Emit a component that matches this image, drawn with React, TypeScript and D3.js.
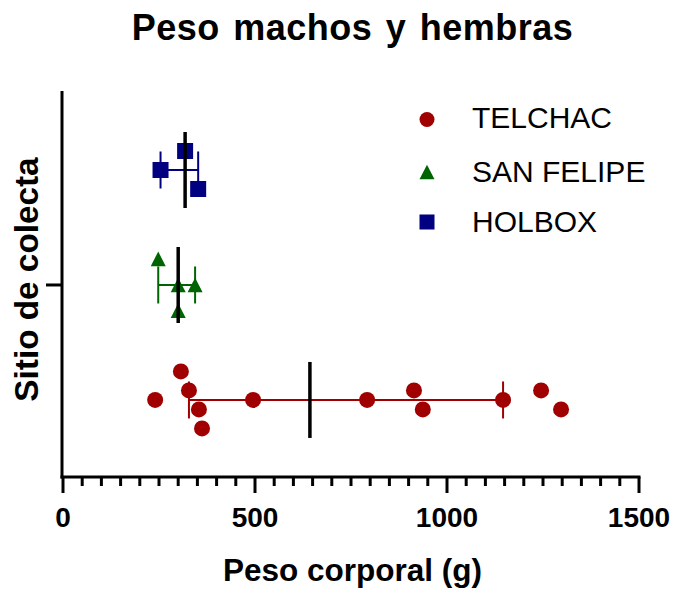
import React from "react";
import * as d3 from "d3";

// ---- data ----
const categories = ["TELCHAC", "SAN FELIPE", "HOLBOX"];
const categoryPos = [1, 2, 3];
const colors = ["#A00000", "#006400", "#000080"];

const telchacValues = [240, 307, 328, 354, 362, 495, 792, 914, 937, 1146, 1245, 1297];
const telchacLane = [0, -3, -1, 1, 3, 0, 0, -1, 1, 0, -1, 1];
const sanFelipeValues = [248, 300, 344, 300];
const sanFelipeLane = [-2.75, 0, 0, 2.7];
const holboxValues = [254, 318, 352];
const holboxLane = [0, -2, 2];

const medians = [643, 300, 318];
const errLow = [328, 248, 254];
const errHigh = [1146, 344, 352];

const xTicks = [0, 500, 1000, 1500];
const xMinorStep = 50;

const W = 673;
const H = 590;

export default function App() {
  const x = d3.scaleLinear().domain([0, 1500]).range([63, 639]);
  const y = d3.scaleLinear().domain([0.33, 3.687]).range([477, 91]);
  const laneStep = 0.0826;

  const series = [
    { values: telchacValues, lanes: telchacLane },
    { values: sanFelipeValues, lanes: sanFelipeLane },
    { values: holboxValues, lanes: holboxLane },
  ];

  const marker = (i: number, cx: number, cy: number, s: number, key: string) => {
    const c = colors[i];
    if (i === 0) return <circle key={key} cx={cx} cy={cy} r={s / 2} fill={c} />;
    if (i === 1) {
      const h = s * 0.97;
      const p = d3.path();
      p.moveTo(cx, cy - h / 2);
      p.lineTo(cx + s / 2, cy + h / 2);
      p.lineTo(cx - s / 2, cy + h / 2);
      p.closePath();
      return <path key={key} d={p.toString()} fill={c} />;
    }
    return <rect key={key} x={cx - s / 2} y={cy - s / 2} width={s} height={s} fill={c} />;
  };

  const minorTicks = d3.range(0, 1500 + 1, xMinorStep);
  const font = "Arial, 'Liberation Sans', Helvetica, sans-serif";

  return (
    <svg width={W} height={H} style={{ position: "absolute", left: 0, top: 0, background: "#fff" }} fontFamily={font}>
      {/* title */}
      <text x={352.5} y={40} textAnchor="middle" fontSize={36} fontWeight="bold" letterSpacing={0.5} wordSpacing={3}>
        Peso machos y hembras
      </text>

      {/* error bars */}
      {categoryPos.map((g, i) => {
        const cy = y(g);
        const x0 = x(errLow[i]);
        const x1 = x(errHigh[i]);
        return (
          <g key={"eb" + i} stroke={colors[i]} strokeWidth={2} fill="none">
            <line x1={x0} x2={x1} y1={cy} y2={cy} />
            <line x1={x0} x2={x0} y1={cy - 18.5} y2={cy + 18.5} />
            <line x1={x1} x2={x1} y1={cy - 18.5} y2={cy + 18.5} />
          </g>
        );
      })}

      {/* points */}
      {series.map((s, i) =>
        s.values.map((v, j) =>
          marker(i, x(v), y(categoryPos[i] - s.lanes[j] * laneStep), i === 1 ? 15 : 16, `p${i}-${j}`)
        )
      )}

      {/* medians */}
      {categoryPos.map((g, i) => (
        <line
          key={"md" + i}
          x1={x(medians[i])}
          x2={x(medians[i])}
          y1={y(g) - 38}
          y2={y(g) + 38}
          stroke="#000"
          strokeWidth={3.5}
        />
      ))}

      {/* y axis */}
      <line x1={62} x2={62} y1={91} y2={478.5} stroke="#000" strokeWidth={3} />
      <line x1={46} x2={62} y1={y(2)} y2={y(2)} stroke="#000" strokeWidth={3} />

      {/* x axis */}
      <line x1={60.5} x2={640.5} y1={477} y2={477} stroke="#000" strokeWidth={3} />
      {minorTicks.map((t) => (
        <line
          key={"mt" + t}
          x1={x(t)}
          x2={x(t)}
          y1={477}
          y2={xTicks.includes(t) ? 493 : 486}
          stroke="#000"
          strokeWidth={3}
        />
      ))}
      {xTicks.map((t) => (
        <text key={"tl" + t} x={x(t)} y={527} textAnchor="middle" fontSize={28} fontWeight="bold">
          {t}
        </text>
      ))}

      {/* axis titles */}
      <text x={352.5} y={581} textAnchor="middle" fontSize={31.5} fontWeight="bold">
        Peso corporal (g)
      </text>
      <text
        transform={`translate(38, 279.5) rotate(-90)`}
        textAnchor="middle"
        fontSize={33.3}
        fontWeight="bold"
      >
        Sitio de colecta
      </text>

      {/* legend */}
      {categories.map((c, i) => {
        const ly = [119.5, 172, 222][i];
        return (
          <g key={"lg" + i}>
            {marker(i, 427, ly, 15, "lm" + i)}
            <text x={472} y={ly + 9.5 + (i === 0 ? -1 : 0)} fontSize={30}>
              {c}
            </text>
          </g>
        );
      })}
    </svg>
  );
}
